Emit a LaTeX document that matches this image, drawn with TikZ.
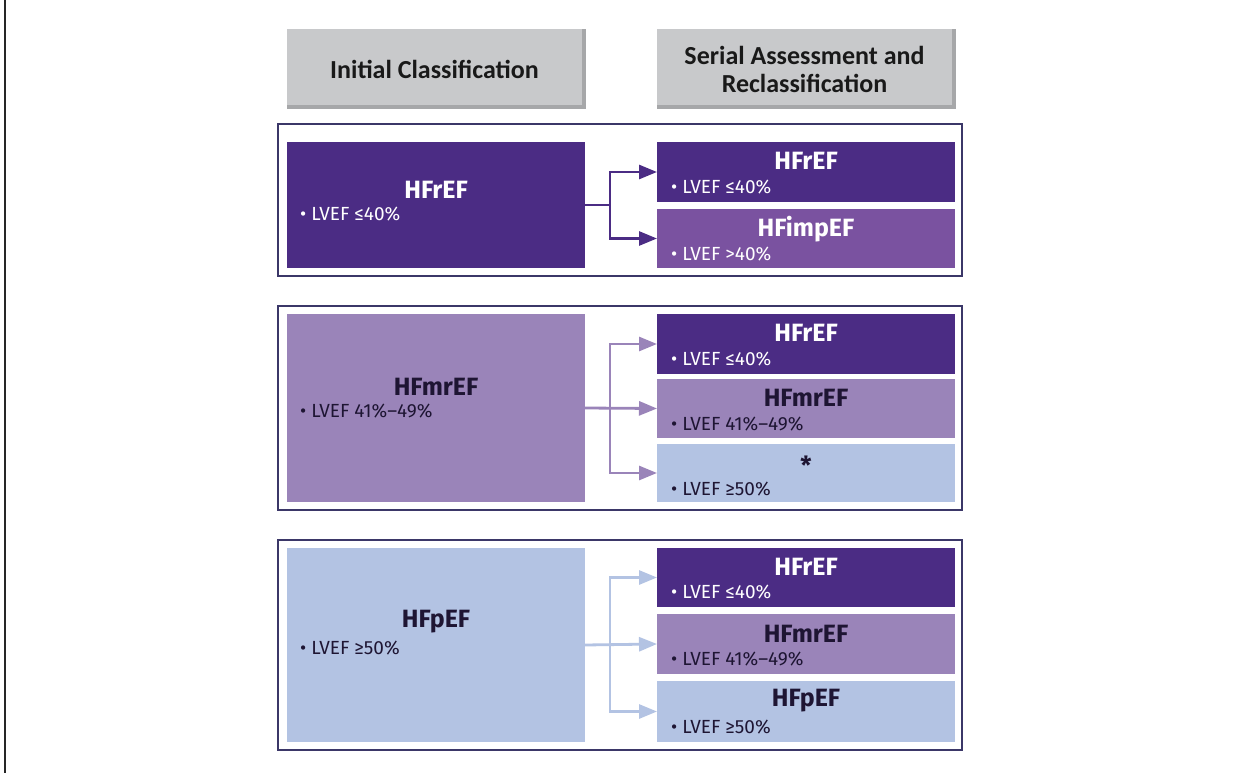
\documentclass[tikz,border=0pt]{standalone}
\usepackage{fontspec}
\setmainfont{Fira Sans}
\newfontfamily\hdrfont{Carlito}
\usetikzlibrary{arrows.meta,calc}
\definecolor{dpurp}{HTML}{4B2C84}
\definecolor{impurp}{HTML}{7A52A0}
\definecolor{lav}{HTML}{9A84B9}
\definecolor{lblue}{HTML}{B3C3E3}
\definecolor{hgray}{HTML}{C8C9CB}
\definecolor{hshade}{HTML}{A6A7A9}
\definecolor{frm}{HTML}{3B3768}
\definecolor{dtext}{HTML}{1E1533}
\tikzset{
  blk/.style={rectangle, draw=none, inner sep=0pt, outer sep=0pt, anchor=north west},
  grp/.style={draw=frm, line width=2.3pt, fill=white},
  ttl/.style={font=\fontsize{25}{28}\selectfont\bfseries, inner sep=0pt},
  bul/.style={font=\fontsize{19}{22}\selectfont, inner sep=0pt, anchor=west},
  hdr/.style={font=\hdrfont\fontsize{26}{28}\selectfont\bfseries, align=center, text=black!90},
  conn/.style={line width=2.8pt, -{Triangle[length=18pt,width=14pt]}},
  cline/.style={line width=2.8pt},
}
\begin{document}
\begin{tikzpicture}[x=1pt,y=-1pt]
\useasboundingbox (0,0) rectangle (1237,773);
\draw[line width=2pt, black!85] (5,0) -- (5,773);
% headers
\fill[hshade] (287,29) rectangle (586,109);
\node[blk, fill=hgray, minimum width=295pt, minimum height=76pt] (h1) at (287,29) {};
\node[hdr] (h1t) at ($(h1.center)+(0,2)$) {Initial Classification};
\fill[hshade] (657,29) rectangle (956,109);
\node[blk, fill=hgray, minimum width=295pt, minimum height=76pt] (h2) at (657,29) {};
\node[hdr] (h2t) at ($(h2.center)+(0,2)$) {Serial Assessment and\\Reclassification};
% group frames
\draw[grp] (278,124) rectangle (962,276);
\draw[grp] (278,306) rectangle (962,510);
\draw[grp] (278,540) rectangle (962,750);
% ---------- group 1
\node[blk, fill=dpurp, minimum width=298pt, minimum height=126pt] (a1) at (287,142) {};
\node[ttl, text=white] (a1t) at (436,190) {HFrEF};
\node[bul, text=white] (a1b) at (300,214) {• LVEF ≤40\%};
\node[blk, fill=dpurp, minimum width=298pt, minimum height=60pt] (b11) at (657,142) {};
\node[ttl, text=white] (b11t) at (806,161) {HFrEF};
\node[bul, text=white] (b11b) at (671,187) {• LVEF ≤40\%};
\node[blk, fill=impurp, minimum width=298pt, minimum height=59pt] (b12) at (657,209) {};
\node[ttl, text=white] (b12t) at (806,229) {HFimpEF};
\node[bul, text=white] (b12b) at (671,254) {• LVEF >40\%};
\coordinate (j1) at (610,205);
\draw[cline, dpurp] (a1.east) -- (j1);
\draw[conn, dpurp] (j1) |- (b11.west);
\draw[conn, dpurp] (j1) |- (b12.west);
% ---------- group 2
\node[blk, fill=lav, minimum width=298pt, minimum height=188pt] (a2) at (287,314) {};
\node[ttl, text=dtext] (a2t) at (436,387) {HFmrEF};
\node[bul, text=dtext] (a2b) at (300,411) {• LVEF 41\%–49\%};
\node[blk, fill=dpurp, minimum width=298pt, minimum height=60pt] (b21) at (657,314) {};
\node[ttl, text=white] (b21t) at (806,333) {HFrEF};
\node[bul, text=white] (b21b) at (671,359) {• LVEF ≤40\%};
\node[blk, fill=lav, minimum width=298pt, minimum height=59pt] (b22) at (657,379) {};
\node[ttl, text=dtext] (b22t) at (806,398) {HFmrEF};
\node[bul, text=dtext] (b22b) at (671,424) {• LVEF 41\%–49\%};
\node[blk, fill=lblue, minimum width=298pt, minimum height=58pt] (b23) at (657,444) {};
\node[ttl, text=dtext] (b23t) at (806,465) {*};
\node[bul, text=dtext] (b23b) at (671,489) {• LVEF ≥50\%};
\coordinate (j2) at (610,408);
\draw[conn, lav] (a2.east) -- (b22.west);
\draw[conn, lav] (j2) |- (b21.west);
\draw[conn, lav] (j2) |- (b23.west);
% ---------- group 3
\node[blk, fill=lblue, minimum width=298pt, minimum height=194pt] (a3) at (287,548) {};
\node[ttl, text=dtext] (a3t) at (436,622) {HFpEF};
\node[bul, text=dtext] (a3b) at (300,648) {• LVEF ≥50\%};
\node[blk, fill=dpurp, minimum width=298pt, minimum height=59pt] (b31) at (657,548) {};
\node[ttl, text=white] (b31t) at (806,567) {HFrEF};
\node[bul, text=white] (b31b) at (671,592) {• LVEF ≤40\%};
\node[blk, fill=lav, minimum width=298pt, minimum height=60pt] (b32) at (657,614) {};
\node[ttl, text=dtext] (b32t) at (806,634) {HFmrEF};
\node[bul, text=dtext] (b32b) at (671,659) {• LVEF 41\%–49\%};
\node[blk, fill=lblue, minimum width=298pt, minimum height=61pt] (b33) at (657,681) {};
\node[ttl, text=dtext] (b33t) at (806,701) {HFpEF};
\node[bul, text=dtext] (b33b) at (671,727) {• LVEF ≥50\%};
\coordinate (j3) at (610,645);
\draw[conn, lblue] (a3.east) -- (b32.west);
\draw[conn, lblue] (j3) |- (b31.west);
\draw[conn, lblue] (j3) |- (b33.west);
\end{tikzpicture}
\end{document}
